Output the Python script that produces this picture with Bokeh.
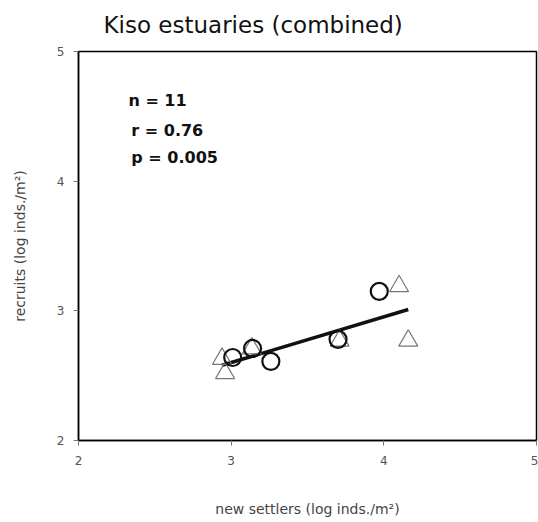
from bokeh.plotting import figure
from bokeh.models import Range1d, Label, FixedTicker
from bokeh.embed import file_html
from bokeh.resources import INLINE

# circles (black, thick)
circ_x = [3.01, 3.14, 3.26, 3.70, 3.97]
circ_y = [2.64, 2.71, 2.61, 2.78, 3.15]
# triangles (grey)
tri_x = [2.94, 2.96, 3.135, 3.71, 4.10, 4.16]
tri_y = [2.63, 2.52, 2.71, 2.77, 3.19, 2.77]
# regression line end points
fit_x = [2.94, 4.16]
fit_y = [2.58, 3.01]

ticks = [2, 3, 4, 5]
title_text = "Kiso estuaries (combined)"
stats = ["n = 11", "r = 0.76", "p = 0.005"]

p = figure(width=538, height=522, output_backend="svg", toolbar_location=None,
           x_range=Range1d(2, 5), y_range=Range1d(2, 5),
           min_border_left=78, min_border_right=2, min_border_top=51, min_border_bottom=82)
p.grid.visible = False
p.background_fill_color = "white"
p.border_fill_color = "white"
p.outline_line_color = "black"
p.outline_line_width = 1.5

p.title.text = title_text
p.title.text_font = "DejaVu Sans"
p.title.text_font_size = "23px"
p.title.text_font_style = "normal"
p.title.text_color = "#111111"
p.title.align = "left"
p.title.vertical_align = "top"
p.title.offset = 25
p.title.standoff = 23

for ax in (p.xaxis[0], p.yaxis[0]):
    ax.ticker = FixedTicker(ticks=ticks)
    ax.minor_tick_line_color = None
    ax.major_tick_out = 5
    ax.major_tick_in = 0
    ax.major_tick_line_color = "#777777"
    ax.axis_line_color = "black"
    ax.axis_line_width = 1.5
    ax.major_label_text_font = "DejaVu Sans"
    ax.major_label_text_font_size = "12px"
    ax.major_label_text_color = "#555555"
    ax.axis_label_text_font = "DejaVu Sans"
    ax.axis_label_text_font_size = "14px"
    ax.axis_label_text_font_style = "normal"
    ax.axis_label_text_color = "#444444"

p.xaxis.axis_label = "new settlers (log inds./m²)"
p.yaxis.axis_label = "recruits (log inds./m²)"
p.xaxis.major_label_standoff = 10
p.yaxis.major_label_standoff = 9
p.xaxis.axis_label_standoff = 33
p.yaxis.axis_label_standoff = 26

p.line(fit_x, fit_y, line_color="#111111", line_width=3.5)
p.scatter(tri_x, tri_y, marker="triangle", size=19, fill_color=None,
          line_color="#777777", line_width=1.2)
p.scatter(circ_x, circ_y, marker="circle", size=17, fill_color=None,
          line_color="#111111", line_width=2.2)

sx = [2.327, 2.346, 2.346]
sy = [4.622, 4.39, 4.182]
for t, xx, yy in zip(stats, sx, sy):
    p.add_layout(Label(x=xx, y=yy, text=t, text_font="DejaVu Sans",
                       text_font_size="16px", text_font_style="bold",
                       text_color="#111111", text_baseline="middle"))

open("out.html", "w").write(file_html(p, INLINE))
